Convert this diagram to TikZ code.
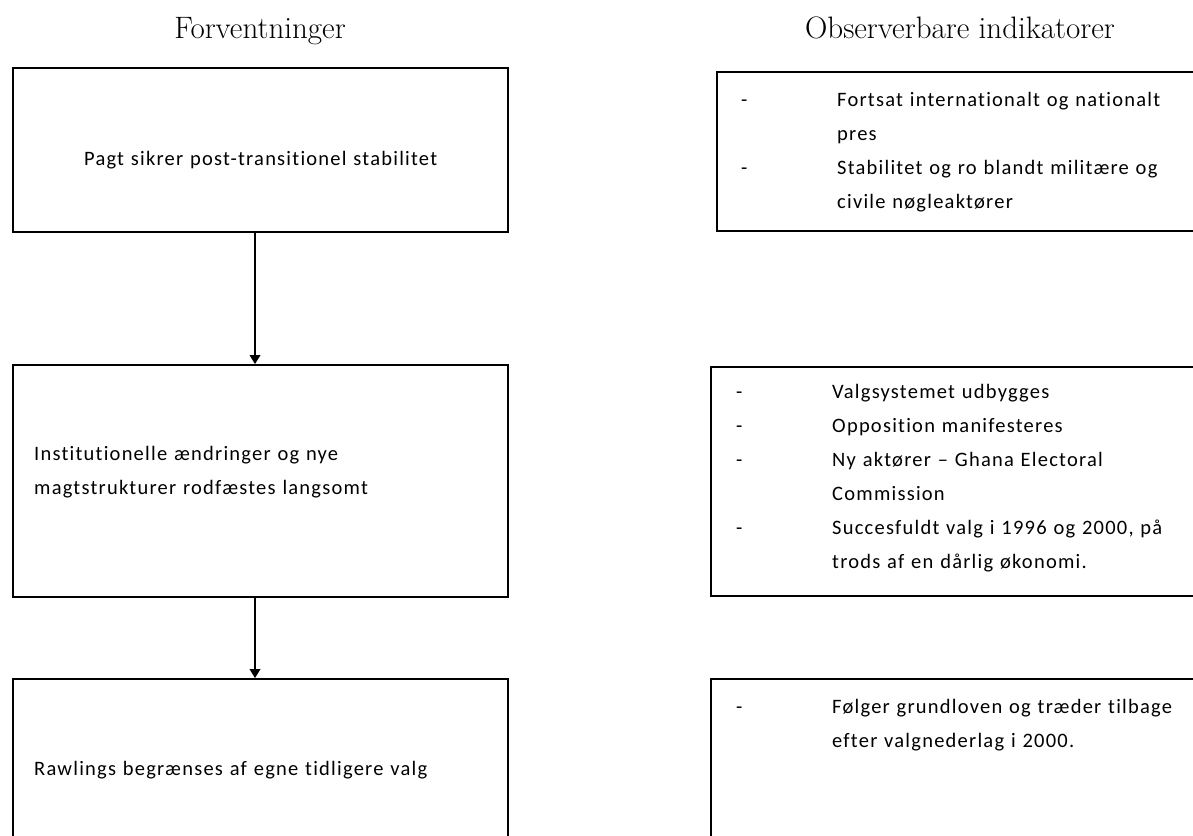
\documentclass[tikz,border=0pt]{standalone}
\usepackage{fontspec}
\newfontfamily\bodyfont[LetterSpace=6,Ligatures=NoCommon]{Carlito}
\usetikzlibrary{arrows.meta,positioning}

\newcommand{\dashitem}[1]{\makebox[96pt][l]{-}#1}
\newcommand{\hangline}[1]{\hspace*{96pt}#1}

\begin{document}
\begin{tikzpicture}[x=1pt,y=-1pt,
    box/.style={draw, line width=1.8pt, minimum width=495pt, inner sep=0pt},
    heading/.style={font=\fontsize{31}{36}\selectfont, anchor=base},
    body/.style={font=\bodyfont\fontsize{20.5}{34}\selectfont, inner sep=0pt,
        anchor=base west, text width=470pt, align=left},
    flow/.style={draw, line width=1.8pt, -{Triangle[length=9pt,width=10.5pt]}}]

\useasboundingbox (0,0) rectangle (1193,835);

% headings
\node[heading] (headexp) at (260,38) {Forventninger};
\node[heading] (headobs) at (960,38) {Observerbare indikatorer};

% expectations, left column
\node[box, minimum height=164pt] (exp1) at (260.5,150) {};
\node[box, minimum height=232pt] (exp2) at (260.5,481) {};
\node[box, minimum height=186pt] (exp3) at (260.5,772) {};

\node[body, text width=495pt, align=center] (txtexp1) at (13,165)
    {Pagt sikrer post-transitionel stabilitet};
\node[body] (txtexp2) at (34,460)
    {Institutionelle ændringer og nye\\magtstrukturer rodfæstes langsomt};
\node[body] (txtexp3) at (34,775)
    {Rawlings begrænses af egne tidligere valg};

% observable indicators, right column (cut off at the right edge)
\node[box, minimum width=488pt, minimum height=159pt] (obs1) at (961,151.5) {};
\node[box, minimum width=494pt, minimum height=229pt] (obs2) at (958,481.5) {};
\node[box, minimum width=494pt, minimum height=186pt] (obs3) at (958,772) {};

\node[body] (txtobs1) at (741,106)
    {\dashitem{Fortsat internationalt og nationalt}\\
     \hangline{pres}\\
     \dashitem{Stabilitet og ro blandt militære og}\\
     \hangline{civile nøgleaktører}};
\node[body] (txtobs2) at (736,398)
    {\dashitem{Valgsystemet udbygges}\\
     \dashitem{Opposition manifesteres}\\
     \dashitem{Ny aktører – Ghana Electoral}\\
     \hangline{Commission}\\
     \dashitem{Succesfuldt valg i 1996 og 2000, på}\\
     \hangline{trods af en dårlig økonomi.}};
\node[body] (txtobs3) at (736,713)
    {\dashitem{Følger grundloven og træder tilbage}\\
     \hangline{efter valgnederlag i 2000.}};

% flow between expectations
\draw[flow] ([xshift=-5.5pt]exp1.south) -- ([xshift=-5.5pt]exp2.north);
\draw[flow] ([xshift=-5.5pt]exp2.south) -- ([xshift=-5.5pt]exp3.north);

\end{tikzpicture}
\end{document}
